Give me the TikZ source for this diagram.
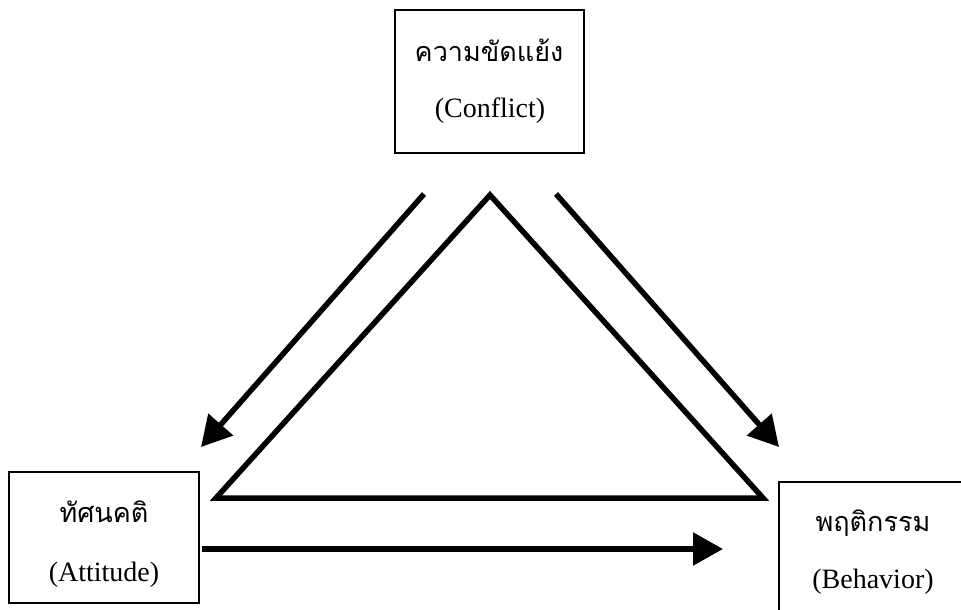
\documentclass[tikz,border=0pt]{standalone}
\usepackage{fontspec}
\setmainfont{Liberation Serif}
\newfontfamily\thaifont[Script=Thai]{Loma}
\usetikzlibrary{arrows.meta}
\tikzset{
  box/.style={draw, line width=1.6pt, fill=none, inner sep=0pt},
  thai/.style={anchor=base, inner sep=0pt, font=\thaifont\fontsize{27}{32}\selectfont},
  eng/.style={anchor=base, inner sep=0pt, font=\fontsize{28}{33}\selectfont},
  bigarrow/.style={line width=5.5pt, -{Triangle[length=30pt,width=32pt]}},
  tri/.style={line width=5.5pt, miter limit=20}
}
\begin{document}
\begin{tikzpicture}[x=1pt,y=-1pt]
\useasboundingbox (0,0) rectangle (961,610);
\clip (0,0) rectangle (961,610);
\fill[white] (0,0) rectangle (961,610);
% boxes
\node[box, minimum width=189pt, minimum height=143pt] (conf) at (489.5,81.5) {};
\node[box, minimum width=190pt, minimum height=131pt] (att) at (104,537.5) {};
\node[box, minimum width=190pt, minimum height=160pt] (beh) at (874,562) {};
% texts
\node[thai] (t1) at (489,62) {ความขัดแย้ง};
\node[eng] (e1) at (490,117) {(Conflict)};
\node[thai] (t2) at (104,522) {ทัศนคติ};
\node[eng] (e2) at (104,581) {(Attitude)};
\node[thai] (t3) at (873,531) {พฤติกรรม};
\node[eng] (e3) at (873,588) {(Behavior)};
% triangle
\coordinate (ta) at (490,195);
\coordinate (tl) at (216,498);
\coordinate (tr) at (763,498);
\draw[tri] (tl) -- (ta) -- (tr) -- cycle;
% arrows
\coordinate (s1) at (424,194);
\coordinate (d1) at (201,447);
\coordinate (s2) at (556,194);
\coordinate (d2) at (779,447);
\draw[bigarrow] (s1) -- (d1);
\draw[bigarrow] (s2) -- (d2);
\draw[bigarrow] (att.east |- 0,549) ++(2,0) coordinate (h1) -- (723,549) coordinate (h2);
\end{tikzpicture}
\end{document}
